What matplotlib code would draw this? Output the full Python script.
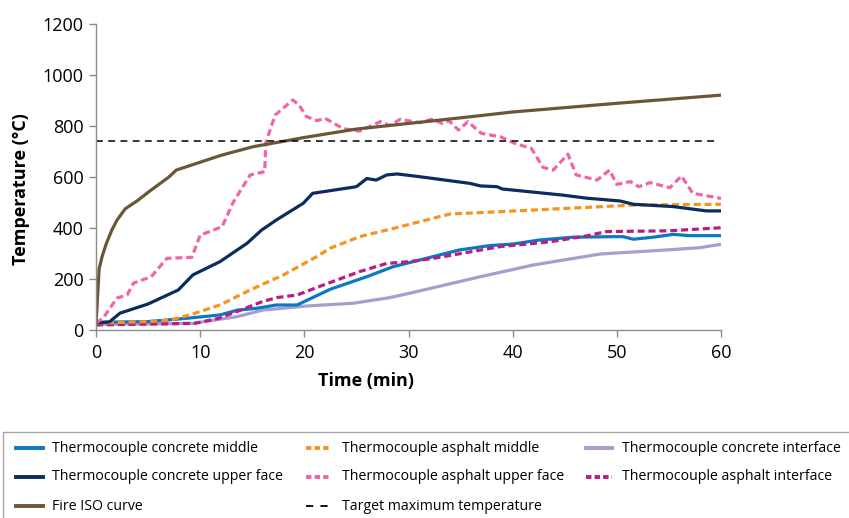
import numpy as np
import matplotlib.pyplot as plt
from matplotlib.lines import Line2D
from matplotlib.patches import Rectangle

plt.rcParams['font.family'] = ['Open Sans', 'DejaVu Sans']

# Données (temps en min, température en °C)
t_conc_mid = [0, 5, 9, 11.9, 13.6, 15.4, 17.3, 19.3, 22.5, 26, 28.5, 29.2, 31.7, 34.9, 37.8, 40,
              42.6, 45.8, 49.6, 50.6, 51.6, 53.5, 55.4, 57, 60]
T_conc_mid = [30, 33, 47, 59, 78, 85, 98, 98, 160, 209, 248, 255, 281, 314, 331, 337,
              353, 364, 366, 366, 356, 364, 375, 370, 370]

t_conc_up = [0, 1.3, 2.3, 5, 7.9, 9.3, 11.9, 14.5, 15.9, 17.3, 19.9, 20.8, 25, 26, 26.9, 27.9,
             28.9, 30.1, 31.1, 35.9, 36.9, 38.5, 39, 44.8, 47.1, 50.3, 51.6, 55.4, 58.6, 60]
T_conc_up = [27, 32, 66, 102, 157, 216, 268, 340, 392, 431, 497, 536, 562, 594, 588, 608,
             612, 606, 601, 575, 565, 562, 553, 529, 517, 506, 493, 484, 467, 467]

t_iso = [0, 0.3, 0.6, 1, 1.5, 2, 2.8, 4, 5, 6, 7, 7.7, 10, 12, 15.1, 18, 20, 25, 30, 35, 40,
         45, 50, 55, 60]
T_iso = [20, 240, 290, 340, 390, 430, 475, 508, 540, 570, 600, 627, 658, 685, 719, 740, 755,
         788, 810, 832, 855, 872, 889, 905, 921]

t_asph_mid = [0, 5, 7.1, 9, 11.9, 14.8, 18, 21.2, 22.5, 25.3, 29.2, 31.1, 34, 38.8, 45.2, 51.6, 60]
T_asph_mid = [27, 33, 39, 59, 98, 157, 216, 288, 321, 366, 405, 425, 455, 464, 477, 490, 493]

t_asph_up = [0, 0.7, 2, 3, 3.6, 5.3, 6.8, 9.2, 10, 12.1, 13.2, 14.8, 16.2, 16.3, 17.2, 18.9,
             19.5, 20.2, 21.2, 22, 23.7, 25.3, 27.3, 28.2, 29.2, 31.1, 32.2, 33.3, 33.9, 34.8,
             35.7, 37, 38.8, 40.2, 41.8, 42.9, 43.9, 45.3, 46.1, 48.1, 49.3, 50, 51.3, 52.1,
             53.2, 55.1, 56.2, 57.3, 60]
T_asph_up = [27, 47, 125, 138, 184, 209, 281, 285, 372, 405, 503, 608, 621, 735, 843, 902,
             882, 837, 821, 830, 790, 780, 817, 802, 826, 813, 826, 810, 820, 784,
             817, 771, 758, 732, 712, 638, 627, 690, 608, 588, 627, 571, 582, 562,
             578, 558, 604, 536, 516]

t_conc_int = [0, 9.3, 13.5, 16, 20.2, 24.7, 28.2, 30.1, 36.9, 42, 48.4, 54.8, 58, 60]
T_conc_int = [22, 26, 52, 78, 94, 105, 127, 144, 209, 255, 298, 314, 323, 336]

t_asph_int = [0, 9.5, 11.8, 13.5, 16, 17.5, 19.3, 21.8, 25.3, 27.9, 30.1, 32.4, 38.8,
              43.6, 47.1, 49, 55, 60]
T_asph_int = [20, 26, 46, 72, 112, 128, 137, 176, 229, 261, 268, 281, 327,
              346, 369, 386, 389, 401]

t_target = [0, 59.7]
T_target = [740, 740]

names = ["Thermocouple concrete middle", "Thermocouple concrete upper face", "Fire ISO curve",
         "Thermocouple asphalt middle", "Thermocouple asphalt upper face",
         "Target maximum temperature",
         "Thermocouple concrete interface", "Thermocouple asphalt interface"]

dash = (0, (2.2, 1.2))
series = {
    names[0]: (t_conc_mid, T_conc_mid, "#0a78c2", "-"),
    names[1]: (t_conc_up, T_conc_up, "#0b2c5c", "-"),
    names[2]: (t_iso, T_iso, "#6b5637", "-"),
    names[3]: (t_asph_mid, T_asph_mid, "#f7941d", dash),
    names[4]: (t_asph_up, T_asph_up, "#f065a8", dash),
    names[6]: (t_conc_int, T_conc_int, "#a99ccf", "-"),
    names[7]: (t_asph_int, T_asph_int, "#b81c86", dash),
}

fig = plt.figure(figsize=(8.49, 5.18), dpi=100)
ax = fig.add_axes([96 / 849, 1 - 330 / 518, 625 / 849, 306 / 518])

draw_order = [names[6], names[0], names[7], names[3], names[1], names[4], names[2]]
for name in draw_order:
    t, T, c, ls = series[name]
    ax.plot(t, T, color=c, linestyle=ls, linewidth=2.3)
ax.plot(t_target, T_target, color="black", linestyle=(0, (4.5, 3.5)), linewidth=1.1)

ax.set_xlim(0, 60)
ax.set_ylim(0, 1200)
ax.set_xticks(np.arange(0, 61, 10))
ax.set_yticks(np.arange(0, 1201, 200))
for s in ["top", "right"]:
    ax.spines[s].set_visible(False)
for s in ["left", "bottom"]:
    ax.spines[s].set_color("#8c8c8c")
    ax.spines[s].set_linewidth(1)
ax.tick_params(axis="both", colors="#8c8c8c", labelcolor="black", labelsize=13,
               length=5, width=1)
ax.tick_params(axis="y", pad=4)
ax.tick_params(axis="x", pad=5)
ax.set_xlabel("Time (min)", fontsize=13, fontweight="bold")
ax.set_ylabel("Temperature (°C)", fontsize=13, fontweight="bold")
ax.xaxis.set_label_coords(0.432, -0.138)
ax.yaxis.set_label_coords(-0.106, 0.461)

# Légende (placée à la main, comme dans l'original)
fig.patches.append(Rectangle((3 / 849, -0.1), 1.0, 1 - 432 / 518 + 0.1,
                             transform=fig.transFigure, fill=False,
                             edgecolor="#a6a6a6", linewidth=1))
col_x = [(16, 43, 52), (306, 330, 342), (586, 612, 622)]
row_y = [448, 477, 506]
for k, name in enumerate(names):
    x0, x1, xt = col_x[k // 3]
    y = 1 - row_y[k % 3] / 518
    if name == "Target maximum temperature":
        h = Line2D([x0 / 849, x1 / 849], [y, y], transform=fig.transFigure,
                   color="black", linestyle=(0, (4, 4)), linewidth=1.3)
    else:
        c, ls = series[name][2], series[name][3]
        h = Line2D([x0 / 849, x1 / 849], [y, y], transform=fig.transFigure,
                   color=c, linestyle="-" if ls == "-" else (0, (1.4, 0.8)),
                   linewidth=2.8)
    fig.lines.append(h)
    fig.text(xt / 849, y, name, fontsize=10.2, va="center", ha="left")

fig.savefig("out.png", dpi=100)
